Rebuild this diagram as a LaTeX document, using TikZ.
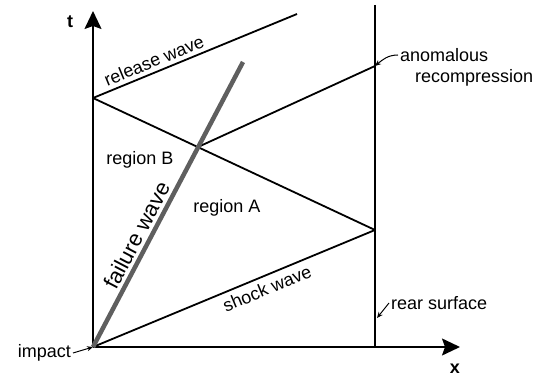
\documentclass[tikz,border=0pt]{standalone}
\usepackage{fontspec}
\setmainfont{Liberation Sans}
\usepackage{tikz}
\usetikzlibrary{arrows.meta,positioning,calc}
\definecolor{failgray}{RGB}{95,95,95}
\tikzset{
  axarr/.style={-{Stealth[length=18pt,width=17pt,inset=3pt]}, black, line width=1.6pt},
  wave/.style={black, line width=1.8pt},
  failwave/.style={failgray, line width=4.5pt},
  lbl/.style={font=\fontsize{18}{21}\selectfont, inner sep=2pt, text=black},
  ptr/.style={-{Stealth[length=6pt,width=5pt]}, black, line width=1pt},
}

\begin{document}
\begin{tikzpicture}[x=1pt,y=1pt]
    \useasboundingbox (0,0) rectangle (539,378);
    % points of the x-t plane
    \coordinate (orig) at (93,31);
    \coordinate (ttop) at (93,367);
    \coordinate (xend) at (460,31);
    \coordinate (reartop) at (375,373);
    \coordinate (rearbot) at (375,31);
    \coordinate (shockhit) at (375,148);
    \coordinate (reflhit) at (93,280);
    \coordinate (relend) at (297,364);
    \coordinate (cross) at (198,231);
    \coordinate (anom) at (375,312);
    \coordinate (failend) at (243,316);
    % axes and rear surface
    \draw[wave] (reartop) -- (rearbot);
    \draw[axarr] (orig) -- (ttop);
    \draw[axarr] (orig) -- (xend);
    \node[lbl, font=\fontsize{18}{21}\selectfont\bfseries] (tlab) at (70,356) {t};
    \node[lbl, font=\fontsize{18}{21}\selectfont\bfseries, inner sep=0pt] (xlab) at (455,9) {x};
    % waves
    \draw[wave] (orig) -- (shockhit) node[lbl, pos=0.6, sloped, below=3pt] (shocklab) {shock wave};
    \draw[wave] (shockhit) -- (reflhit);
    \draw[wave] (reflhit) -- (relend) node[lbl, pos=0.32, sloped, above=2pt] (rellab) {release wave};
    \draw[wave] (cross) -- (anom);
    \draw[failwave] (orig) -- (failend) node[lbl, pos=0.37, sloped, above=1pt, font=\fontsize{22}{25}\selectfont] (faillab) {failure wave};
    % regions
    \node[lbl] (regB) at (140,218) {region B};
    \node[lbl] (regA) at (227,170) {region A};
    % annotations
    \node[lbl, anchor=west] (anomlab) at (398,323) {anomalous};
    \node[lbl, anchor=west] (recomlab) at (413,300) {recompression};
    \draw[ptr] (anomlab.west) to[out=180,in=40] (anom);
    \node[lbl, anchor=west] (rearlab) at (389,75) {rear surface};
    \draw[ptr] (rearlab.west) -- ($(rearbot)+(2,29)$);
    \node[lbl, anchor=east] (implab) at (73,25) {impact};
    \draw[ptr] (implab.east) -- (orig);
\end{tikzpicture}
\end{document}
